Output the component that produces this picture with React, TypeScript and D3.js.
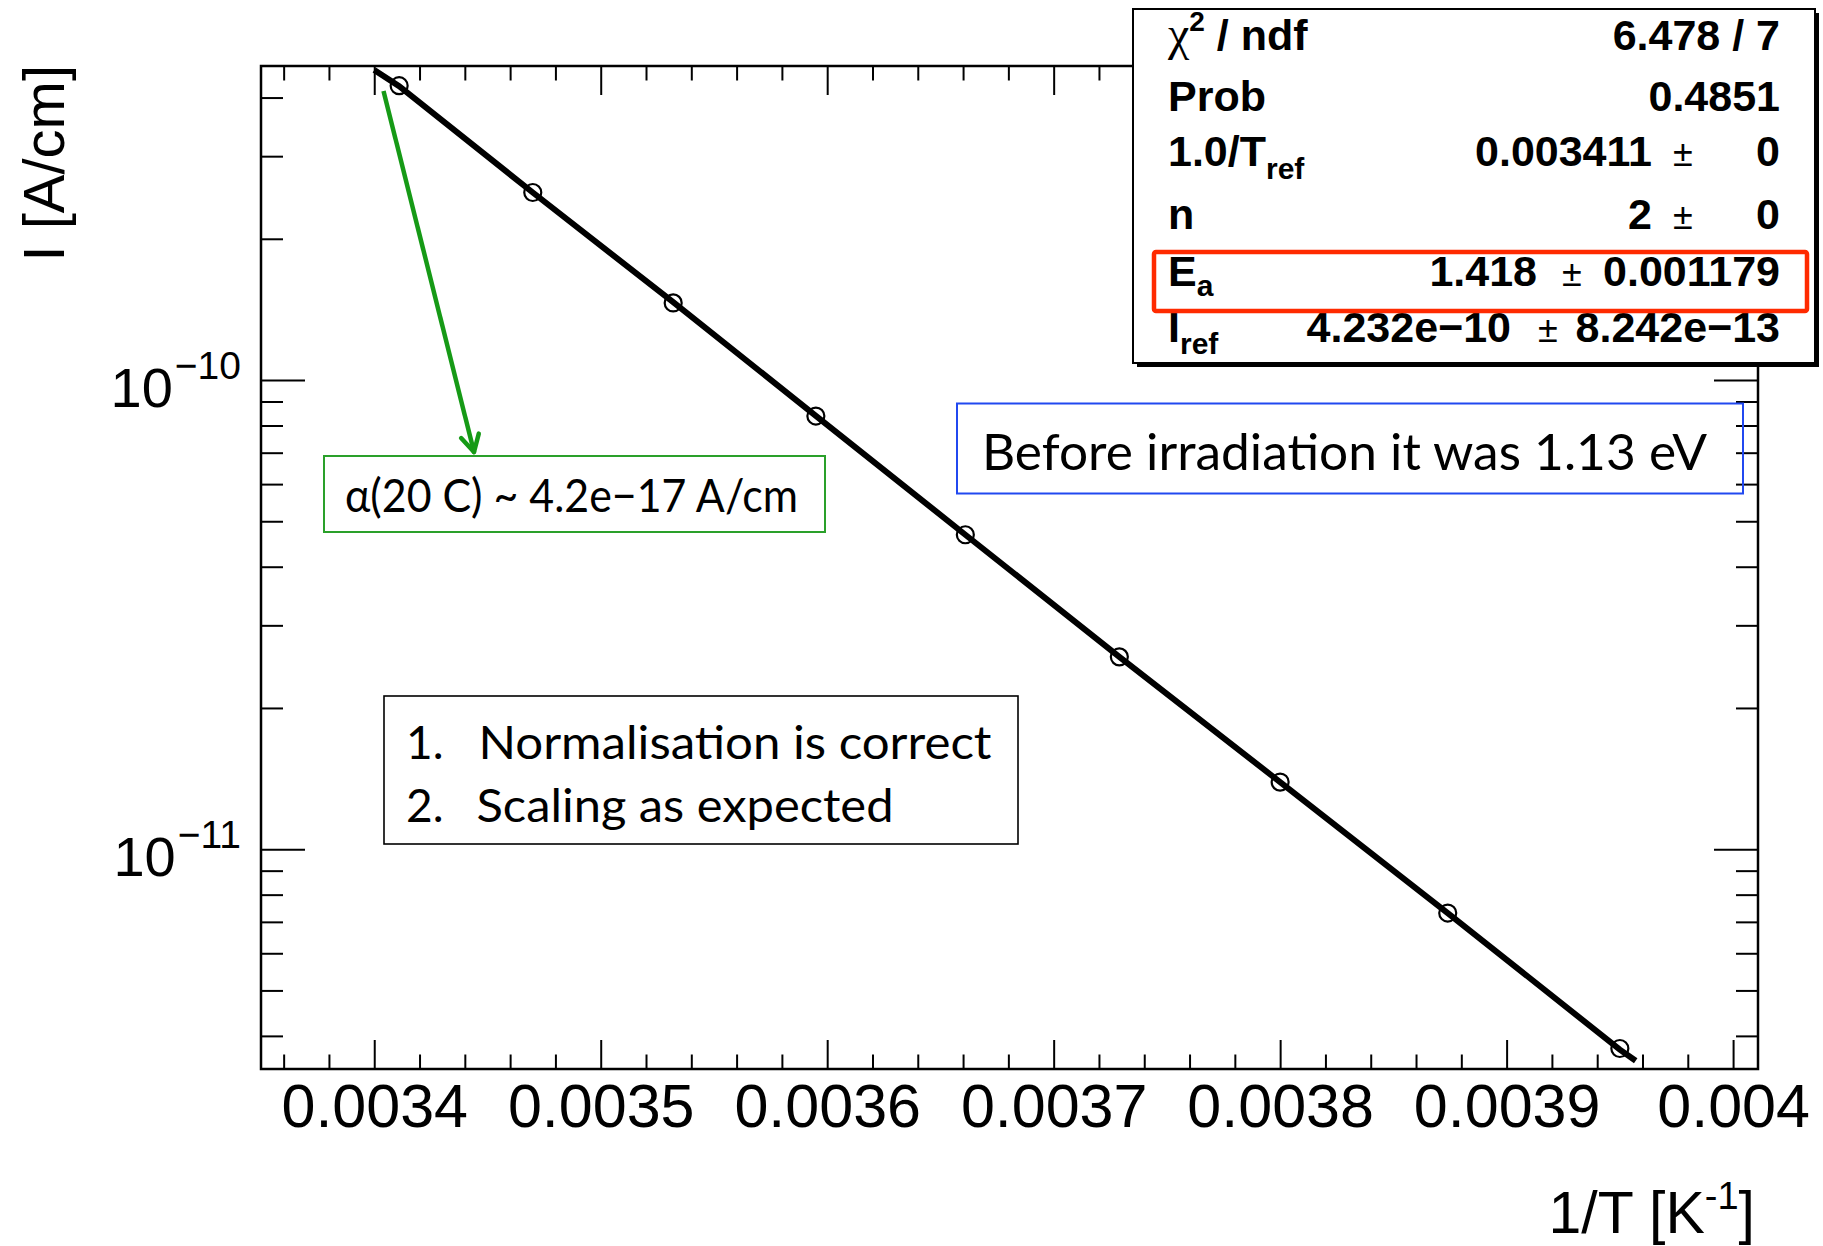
import React, { useEffect, useRef } from "react";
import * as d3 from "d3";

// measured points: inverse temperature [1/K] and leakage current [A/cm]
const invT = [0.003411, 0.00347, 0.003532, 0.003595, 0.003661, 0.003729, 0.0038, 0.003874, 0.00395];
const current = [4.24e-10, 2.51e-10, 1.46e-10, 8.38e-11, 4.68e-11, 2.57e-11, 1.39e-11, 7.31e-12, 3.76e-12];

// fitted function as drawn
const fitInvT = [0.0034, 0.003411, 0.00347, 0.003532, 0.003595, 0.003661, 0.003729, 0.0038, 0.003874, 0.00395, 0.003957];
const fitCurrent = [4.58e-10, 4.23e-10, 2.51e-10, 1.465e-10, 8.39e-11, 4.68e-11, 2.57e-11, 1.39e-11, 7.31e-12, 3.74e-12, 3.54e-12];

const xMajorTicks = [0.0034, 0.0035, 0.0036, 0.0037, 0.0038, 0.0039, 0.004];
const xTickLabels = ["0.0034", "0.0035", "0.0036", "0.0037", "0.0038", "0.0039", "0.004"];
const yMajorTicks = [1e-11, 1e-10];
const yTickExponents = ["−11", "−10"];

// fit statistics box
const statNames = ["χ", "Prob", "1.0/T", "n", "E", "I"];
const statScripts = ["2", "", "ref", "", "a", "ref"];
const statValues = ["6.478 / 7", "0.4851", "0.003411", "2", "1.418", "4.232e−10"];
const statErrors = ["", "", "0", "0", "0.001179", "8.242e−13"];

const W = 1823;
const H = 1246;
const helv = "'Liberation Sans', Arial, Helvetica, sans-serif";
const calibri = "Lato, 'Open Sans', sans-serif";

const App = () => {
  const ref = useRef<SVGSVGElement>(null);

  useEffect(() => {
    if (!ref.current) return;
    const svg = d3.select(ref.current);
    svg.selectAll("*").remove();

    const left = 261, right = 1758, top = 66, bottom = 1069;

    const x = d3.scaleLinear().domain([0.00335, 0.004011]).range([left, right]);
    const y = d3.scaleLog().domain([3.4e-12, 4.67e-10]).range([bottom, top]);

    svg.append("rect").attr("width", W).attr("height", H).attr("fill", "#fff");

    const xMinor = d3.range(168, 201).filter(i => i % 5 !== 0).map(i => i * 0.00002);
    const yMinor: number[] = [];
    [-12, -11, -10].forEach(e => {
      for (let m = 2; m <= 9; m++) {
        const v = m * Math.pow(10, e);
        if (v >= 3.4e-12 && v <= 4.67e-10) yMinor.push(v);
      }
    });

    const style = (g: any) => {
      g.select(".domain").remove();
      g.selectAll("line").attr("stroke", "#000").attr("stroke-width", 2);
      g.selectAll("text")
        .attr("font-family", helv)
        .attr("font-size", 61)
        .attr("fill", "#000");
    };

    // bottom axis
    svg.append("g")
      .attr("transform", `translate(0,${bottom})`)
      .call(d3.axisBottom(x).tickValues(xMajorTicks).tickSize(-29).tickPadding(15)
        .tickFormat((d, i) => xTickLabels[i]))
      .call(style);
    svg.append("g")
      .attr("transform", `translate(0,${bottom})`)
      .call(d3.axisBottom(x).tickValues(xMinor).tickSize(-14.5).tickFormat(() => ""))
      .call(style);
    // top axis
    svg.append("g")
      .attr("transform", `translate(0,${top})`)
      .call(d3.axisTop(x).tickValues(xMajorTicks).tickSize(-29).tickFormat(() => ""))
      .call(style);
    svg.append("g")
      .attr("transform", `translate(0,${top})`)
      .call(d3.axisTop(x).tickValues(xMinor).tickSize(-14.5).tickFormat(() => ""))
      .call(style);
    // left and right axes
    svg.append("g")
      .attr("transform", `translate(${left},0)`)
      .call(d3.axisLeft(y).tickValues(yMajorTicks).tickSize(-44).tickFormat(() => ""))
      .call(style);
    svg.append("g")
      .attr("transform", `translate(${left},0)`)
      .call(d3.axisLeft(y).tickValues(yMinor).tickSize(-22).tickFormat(() => ""))
      .call(style);
    svg.append("g")
      .attr("transform", `translate(${right},0)`)
      .call(d3.axisRight(y).tickValues(yMajorTicks).tickSize(-44).tickFormat(() => ""))
      .call(style);
    svg.append("g")
      .attr("transform", `translate(${right},0)`)
      .call(d3.axisRight(y).tickValues(yMinor).tickSize(-22).tickFormat(() => ""))
      .call(style);

    svg.append("rect")
      .attr("x", left).attr("y", top)
      .attr("width", right - left).attr("height", bottom - top)
      .attr("fill", "none").attr("stroke", "#000").attr("stroke-width", 2.5);

    // y tick labels 10^n
    yMajorTicks.forEach((v, i) => {
      const t = svg.append("text")
        .attr("x", 241).attr("y", y(v) + 27)
        .attr("text-anchor", "end")
        .attr("font-family", helv).attr("font-size", 56);
      t.append("tspan").text("10");
      t.append("tspan").attr("dx", 2).attr("dy", -28).attr("font-size", 39).text(yTickExponents[i]);
    });

    // axis titles
    const xt = svg.append("text")
      .attr("x", 1755).attr("y", 1233)
      .attr("text-anchor", "end")
      .attr("font-family", helv).attr("font-size", 59);
    xt.append("tspan").text("1/T [K");
    xt.append("tspan").attr("dy", -24).attr("font-size", 38).text("-1");
    xt.append("tspan").attr("dy", 24).text("]");

    svg.append("text")
      .attr("transform", "translate(64,65) rotate(-90)")
      .attr("text-anchor", "end")
      .attr("font-family", helv).attr("font-size", 58)
      .text("I [A/cm]");

    // fit curve
    const line = d3.line<number>()
      .x(d => x(d))
      .y((d, i) => y(fitCurrent[i]));
    svg.append("path")
      .attr("d", line(fitInvT))
      .attr("fill", "none").attr("stroke", "#000").attr("stroke-width", 6);

    // data markers
    svg.append("g")
      .selectAll("circle")
      .data(invT)
      .enter()
      .append("circle")
        .attr("cx", d => x(d))
        .attr("cy", (d, i) => y(current[i]))
        .attr("r", 8.5)
        .attr("fill", "none")
        .attr("stroke", "#000")
        .attr("stroke-width", 2.2);

    // green annotation + arrow
    const green = "#169a16";
    const ax0 = 383.5, ay0 = 91, ax1 = 474, ay1 = 452;
    svg.append("line")
      .attr("x1", ax0).attr("y1", ay0).attr("x2", ax1).attr("y2", ay1)
      .attr("stroke", green).attr("stroke-width", 4.5);
    const ang = Math.atan2(ay0 - ay1, ax0 - ax1);
    [-0.5, 0.5].forEach(da => {
      svg.append("line")
        .attr("x1", ax1).attr("y1", ay1)
        .attr("x2", ax1 + 19 * Math.cos(ang + da))
        .attr("y2", ay1 + 19 * Math.sin(ang + da))
        .attr("stroke", green).attr("stroke-width", 4.5).attr("stroke-linecap", "round");
    });
    svg.append("rect")
      .attr("x", 324).attr("y", 456).attr("width", 501).attr("height", 76)
      .attr("fill", "none").attr("stroke", "#2aa02a").attr("stroke-width", 2);
    svg.append("text")
      .attr("x", 345).attr("y", 511.5)
      .attr("font-family", calibri).attr("font-size", 46)
      .attr("textLength", 453).attr("lengthAdjust", "spacingAndGlyphs")
      .text("α(20 C) ~ 4.2e−17 A/cm");

    // blue annotation
    svg.append("rect")
      .attr("x", 957).attr("y", 403.5).attr("width", 786).attr("height", 90)
      .attr("fill", "none").attr("stroke", "#2148f0").attr("stroke-width", 2);
    svg.append("text")
      .attr("x", 982).attr("y", 469.5)
      .attr("font-family", calibri).attr("font-size", 50)
      .attr("textLength", 725).attr("lengthAdjust", "spacingAndGlyphs")
      .text("Before irradiation it was 1.13 eV");

    // list box
    svg.append("rect")
      .attr("x", 384).attr("y", 696).attr("width", 634).attr("height", 148)
      .attr("fill", "none").attr("stroke", "#000").attr("stroke-width", 1.6);
    [["1.", "Normalisation is correct", 758.5, 478.5, 513], ["2.", "Scaling as expected", 821.5, 476.5, 417]]
      .forEach(([num, txt, by, tx, tl]) => {
        svg.append("text")
          .attr("x", 406).attr("y", by as number)
          .attr("font-family", calibri).attr("font-size", 46)
          .text(num as string);
        svg.append("text")
          .attr("x", tx as number).attr("y", by as number)
          .attr("font-family", calibri).attr("font-size", 46)
          .attr("textLength", tl as number).attr("lengthAdjust", "spacingAndGlyphs")
          .text(txt as string);
      });

    // stats box with shadow
    const sb = { x: 1133, y: 9, w: 682, h: 354 };
    svg.append("rect")
      .attr("x", sb.x + 4).attr("y", sb.y + 4).attr("width", sb.w).attr("height", sb.h)
      .attr("fill", "#000");
    svg.append("rect")
      .attr("x", sb.x).attr("y", sb.y).attr("width", sb.w).attr("height", sb.h)
      .attr("fill", "#fff").attr("stroke", "#000").attr("stroke-width", 2);

    const baselines = [50, 111, 166, 229, 286, 342];
    const valueEnd = [1780, 1780, 1652, 1652, 1537, 1511];
    const pmCenter = [0, 0, 1683, 1683, 1572, 1548];
    const subShift = [0, 0, 13, 0, 10, 12];

    statNames.forEach((name, i) => {
      const t = svg.append("text")
        .attr("x", 1168).attr("y", baselines[i])
        .attr("font-family", helv).attr("font-weight", "bold").attr("font-size", 43);
      if (i === 0) {
        t.append("tspan").attr("font-family", "'Liberation Serif', serif")
          .attr("font-weight", "normal").attr("font-size", 48).text(name);
        t.append("tspan").attr("dy", -19).attr("font-size", 28).text(statScripts[i]);
        t.append("tspan").attr("dy", 19).text(" / ndf");
      } else {
        t.append("tspan").text(name);
        if (statScripts[i]) {
          t.append("tspan").attr("dy", subShift[i]).attr("font-size", 30).text(statScripts[i]);
        }
      }

      svg.append("text")
        .attr("x", valueEnd[i]).attr("y", baselines[i])
        .attr("text-anchor", "end")
        .attr("font-family", helv).attr("font-weight", "bold").attr("font-size", 43)
        .text(statValues[i]);

      if (statErrors[i]) {
        svg.append("text")
          .attr("x", pmCenter[i]).attr("y", baselines[i])
          .attr("text-anchor", "middle")
          .attr("font-family", helv).attr("font-size", 36)
          .text("±");
        svg.append("text")
          .attr("x", 1780).attr("y", baselines[i])
          .attr("text-anchor", "end")
          .attr("font-family", helv).attr("font-weight", "bold").attr("font-size", 43)
          .text(statErrors[i]);
      }
    });

    // red highlight around E_a row
    svg.append("rect")
      .attr("x", 1154).attr("y", 252).attr("width", 653).attr("height", 59)
      .attr("fill", "none").attr("stroke", "#ff2a00").attr("stroke-width", 4.5)
      .attr("rx", 2);
  }, []);

  return (
    <svg
      ref={ref}
      width={W}
      height={H}
      style={{ position: "absolute", left: 0, top: 0, display: "block" }}
    />
  );
};

export default App;
